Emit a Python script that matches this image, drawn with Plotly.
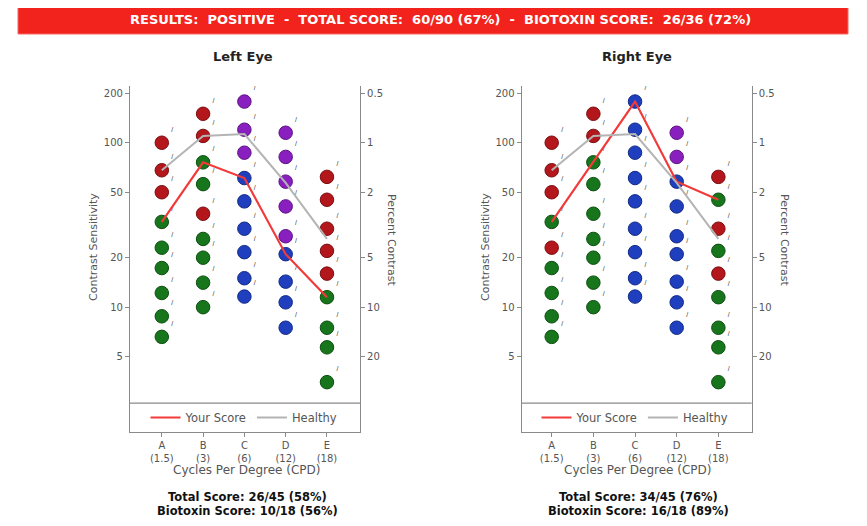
import plotly.graph_objects as go

# ---------------- data ----------------
categories = ["A<br>(1.5)", "B<br>(3)", "C<br>(6)", "D<br>(12)", "E<br>(18)"]

# contrast-sensitivity levels of the test dots in each column
col_A = [100, 68, 50, 33, 23, 17.3, 12.2, 8.8, 6.6]
col_B = [150, 110, 76, 56, 37, 26, 20, 14.1, 10]
col_C = [178, 120, 87, 61, 44, 30, 21.6, 15, 11.6]
col_D = [115, 82, 58, 41, 27, 21, 14.3, 10.7, 7.5]
col_E = [62, 45, 30, 22, 16, 11.5, 7.5, 5.7, 3.5]
columns = [col_A, col_B, col_C, col_D, col_E]

# dot colour codes per column (r=red, g=green, b=blue, p=purple)
left_codes = [
    "rrrgggggg",
    "rrggrgggg",
    "pppbbbbbb",
    "pppppbbbb",
    "rrrrrgggg",
]
right_codes = [
    "rrrgrgggg",
    "rrggggggg",
    "bbbbbbbbb",
    "ppbbbbbbb",
    "rgrgrgggg",
]

left_score = [33, 76, 61, 21, 11.5]
right_score = [33, 76, 178, 58, 45]
healthy = [68, 110, 113, 57, 26]

left_y_ticks = [200, 100, 50, 20, 10, 5]
right_y_ticks = ["0.5", "1", "2", "5", "10", "20"]

banner_text = ("RESULTS:\u00a0 POSITIVE\u00a0 -\u00a0 TOTAL SCORE:\u00a0 60/90 (67%)"
               "\u00a0 -\u00a0 BIOTOXIN SCORE:\u00a0 26/36 (72%)")
left_title = "Left Eye"
right_title = "Right Eye"
left_scores_text = ["Total Score: 26/45 (58%)", "Biotoxin Score: 10/18 (56%)"]
right_scores_text = ["Total Score: 34/45 (76%)", "Biotoxin Score: 16/18 (89%)"]

# ---------------- style ----------------
OFF = 8            # page margin of the html body
W, H = 867 - 2 * OFF, 526 - 2 * OFF
FONT = "DejaVu Sans, Liberation Sans, Arial, sans-serif"
dot_colors = {"r": "#b3171b", "g": "#17761c", "b": "#1f3fbf", "p": "#8a1fc0"}
dot_edge = {"r": "#7a0d10", "g": "#0c4f10", "b": "#122a85", "p": "#5c1282"}
AX = "#8a8a8a"
TXT = "#555555"


def xp(px):
    return (px - OFF) / W


def yp(py):
    return 1 - (py - OFF) / H


fig = go.Figure()

panels = [
    dict(codes=left_codes, score=left_score, xa="x", ya="y", ya2="y2",
         legend="legend"),
    dict(codes=right_codes, score=right_score, xa="x2", ya="y3", ya2="y4",
         legend="legend2"),
]

for p in panels:
    for key in "rgbp":
        xs, ys = [], []
        for ci, col in enumerate(columns):
            for vi, v in enumerate(col):
                if p["codes"][ci][vi] == key:
                    xs.append(categories[ci])
                    ys.append(v)
        if not xs:
            continue
        fig.add_trace(go.Scatter(
            x=xs, y=ys, mode="markers+text", xaxis=p["xa"], yaxis=p["ya"],
            text=["/"] * len(xs), textposition="top right",
            textfont=dict(family="Liberation Sans, Arial", size=7,
                          color="#333333"),
            marker=dict(symbol="circle", size=13.5, color=dot_colors[key],
                        line=dict(color=dot_edge[key], width=1)),
            showlegend=False, hoverinfo="skip"))
    fig.add_trace(go.Scatter(
        x=categories, y=p["score"], mode="lines", name="Your Score",
        xaxis=p["xa"], yaxis=p["ya"], legend=p["legend"],
        line=dict(color="#f23a3a", width=2.2)))
    fig.add_trace(go.Scatter(
        x=categories, y=healthy, mode="lines", name="Healthy",
        xaxis=p["xa"], yaxis=p["ya"], legend=p["legend"],
        line=dict(color="#b4b4b4", width=2)))
    fig.add_trace(go.Scatter(
        x=[categories[0]], y=[100], mode="markers", xaxis=p["xa"],
        yaxis=p["ya2"], marker=dict(opacity=0), showlegend=False,
        hoverinfo="skip"))

YDOM = [yp(432), yp(86)]
YRANGE = [0.241, 2.345]
SEP = 2.61

common_y = dict(type="log", range=YRANGE, domain=YDOM, showline=True,
                linecolor=AX, linewidth=1.2, ticks="outside", ticklen=4,
                tickcolor=AX, showgrid=False, zeroline=False,
                tickfont=dict(family=FONT, size=10, color=TXT))
common_x = dict(showline=True, linecolor=AX, linewidth=1.2, ticks="outside",
                ticklen=4, tickcolor=AX, showgrid=False, zeroline=False,
                tickfont=dict(family=FONT, size=10, color=TXT),
                type="category", categoryorder="array",
                categoryarray=categories)

legend_common = dict(orientation="h", xanchor="center", y=yp(417.5),
                     yanchor="middle", bgcolor="rgba(0,0,0,0)",
                     font=dict(family=FONT, size=11.5, color=TXT),
                     itemwidth=30, tracegroupgap=0)

fig.update_layout(
    width=W, height=H, margin=dict(l=0, r=0, t=0, b=0),
    paper_bgcolor="white", plot_bgcolor="white",
    font=dict(family=FONT, color=TXT),
    xaxis=dict(common_x, domain=[xp(130), xp(360)], range=[-0.77, 4.8],
               anchor="y"),
    xaxis2=dict(common_x, domain=[xp(521.7), xp(751.7)], range=[-0.72, 4.8],
                anchor="y3"),
    yaxis=dict(common_y, anchor="x", tickvals=left_y_ticks),
    yaxis2=dict(common_y, anchor="x", overlaying="y", side="right",
                tickvals=left_y_ticks, ticktext=right_y_ticks),
    yaxis3=dict(common_y, anchor="x2", tickvals=left_y_ticks),
    yaxis4=dict(common_y, anchor="x2", overlaying="y3", side="right",
                tickvals=left_y_ticks, ticktext=right_y_ticks),
    legend=dict(legend_common, x=xp(244)),
    legend2=dict(legend_common, x=xp(635)),
    showlegend=True,
)

shapes = [
    dict(type="rect", xref="paper", yref="paper", x0=xp(18), x1=xp(848),
         y0=yp(34), y1=yp(4), fillcolor="#f2231c",
         line=dict(color="#f56a66", width=1), layer="below"),
    dict(type="line", xref="x domain", yref="y", x0=0, x1=1, y0=SEP, y1=SEP,
         line=dict(color=AX, width=1.2)),
    dict(type="line", xref="x2 domain", yref="y3", x0=0, x1=1, y0=SEP,
         y1=SEP, line=dict(color=AX, width=1.2)),
]
fig.update_layout(shapes=shapes)

ann = []


def add_text(text, x, y, size=10, bold=False, color=TXT, angle=0):
    if bold:
        text = "<b>" + text + "</b>"
    ann.append(dict(text=text, x=xp(x), y=yp(y), xref="paper", yref="paper",
                    showarrow=False, xanchor="center", yanchor="middle",
                    textangle=angle,
                    font=dict(family=FONT, size=size, color=color)))


add_text(banner_text, 440, 19, size=13, bold=True, color="white")
add_text(left_title, 243, 57, size=13, bold=True, color="#222222")
add_text(right_title, 637, 57, size=13, bold=True, color="#222222")
for cx, lx, rx in [(247, 93, 391), (638, 485, 784)]:
    add_text("Contrast Sensitivity", lx, 247, size=11, angle=-90)
    add_text("Percent Contrast", rx, 240, size=11, angle=90)
    add_text("Cycles Per Degree (CPD)", cx, 470, size=12)
add_text(left_scores_text[0], 247, 497, size=11.5, bold=True, color="#111111")
add_text(left_scores_text[1], 247, 511, size=11.5, bold=True, color="#111111")
add_text(right_scores_text[0], 638, 497, size=11.5, bold=True, color="#111111")
add_text(right_scores_text[1], 638, 511, size=11.5, bold=True, color="#111111")
fig.update_layout(annotations=ann)

fig.write_html("out.html")
